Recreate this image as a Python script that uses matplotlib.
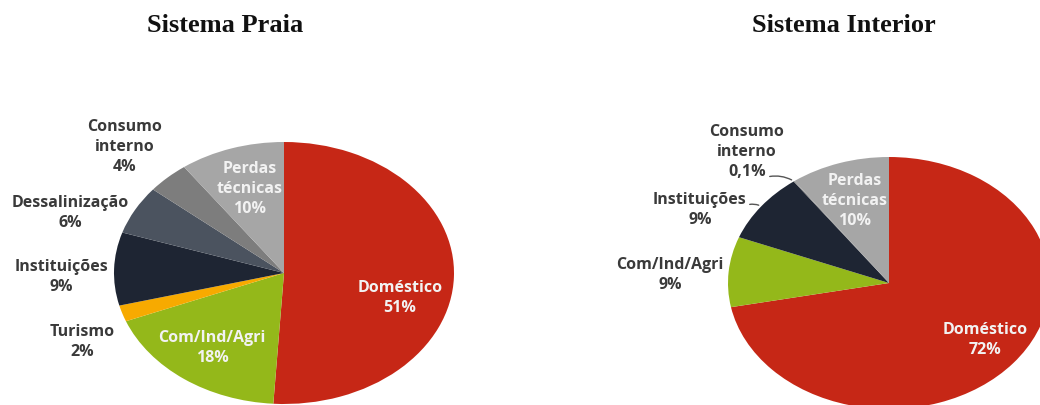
import numpy as np
import matplotlib
matplotlib.use("Agg")
import matplotlib.pyplot as plt

# --- Data --- #
praia_labels = ["Doméstico", "Com/Ind/Agri", "Turismo", "Instituições",
                "Dessalinização", "Consumo\ninterno", "Perdas\ntécnicas"]
praia_values = [51, 18, 2, 9, 6, 4, 10]
praia_pct = ["51%", "18%", "2%", "9%", "6%", "4%", "10%"]

interior_labels = ["Doméstico", "Com/Ind/Agri", "Instituições",
                   "Consumo\ninterno", "Perdas\ntécnicas"]
interior_values = [72, 9, 9, 0.1, 10]
interior_pct = ["72%", "9%", "9%", "0,1%", "10%"]

praia_colors = ["#c62716", "#94b81a", "#f7aa00", "#1e2533",
                "#4b535f", "#7d7d7d", "#a6a6a6"]
interior_colors = ["#c62716", "#94b81a", "#1e2533", "#7d7d7d", "#a6a6a6"]

W, H = 1040, 405
DARK = "#3a3a3a"
LIGHT = "#f2f2f2"


def px_axes(fig, cx, cy, rx, ry):
    # axes placed in pixel coords (y from top) so the pie becomes an ellipse
    return fig.add_axes([(cx - rx) / W, (H - cy - ry) / H, 2 * rx / W, 2 * ry / H])


def put(fig, x, y, s, color):
    fig.text(x / W, 1 - y / H, s, ha="center", va="center", color=color,
             fontsize=11.5, fontweight="bold", family="Open Sans", linespacing=1.35)


def draw_pie(ax, values, colors):
    wedges, _ = ax.pie(values, colors=colors, startangle=90, counterclock=False,
                       radius=1.0, wedgeprops=dict(linewidth=0))
    ax.set_aspect("auto")
    ax.set_xlim(-1, 1)
    ax.set_ylim(-1, 1)
    ax.set_axis_off()
    return wedges


fig = plt.figure(figsize=(W / 100, H / 100), dpi=100)

fig.text(225 / W, 1 - 25 / H, "Sistema Praia", ha="center", va="center",
         family="Liberation Serif", fontweight="bold", fontsize=19, color="#111111")
fig.text(844 / W, 1 - 25 / H, "Sistema Interior", ha="center", va="center",
         family="Liberation Serif", fontweight="bold", fontsize=19, color="#111111")

# --- Sistema Praia --- #
ax1 = px_axes(fig, 284, 273, 170, 131)
draw_pie(ax1, praia_values, praia_colors)
praia_pos = [(400, 298), (212, 348), (82, 342), (61, 277), (70, 213), (125, 147), (250, 189)]
praia_txtcol = [LIGHT, LIGHT, DARK, DARK, DARK, DARK, LIGHT]
for lab, pct, (x, y), c in zip(praia_labels, praia_pct, praia_pos, praia_txtcol):
    put(fig, x, y, lab + "\n" + pct, c)

# --- Sistema Interior --- #
ax2 = px_axes(fig, 889, 283, 161, 126)
wedges2 = draw_pie(ax2, interior_values, interior_colors)
interior_pos = [(985, 340), (670, 275), (700, 210), (747, 152), (855, 201)]
interior_txtcol = [LIGHT, DARK, DARK, DARK, LIGHT]
for lab, pct, (x, y), c in zip(interior_labels, interior_pct, interior_pos, interior_txtcol):
    put(fig, x, y, lab + "\n" + pct, c)

# leader lines for the small outside labels
for i, start in [(2, (747, 205)), (3, (767, 177))]:
    w = wedges2[i]
    ang = np.deg2rad((w.theta1 + w.theta2) / 2)
    sx = (start[0] - 889) / 161
    sy = (283 - start[1]) / 126
    ax2.annotate("", xy=(np.cos(ang), np.sin(ang)), xytext=(sx, sy),
                 arrowprops=dict(arrowstyle="-", color="#555555", lw=1.0,
                                 connectionstyle="arc3,rad=-0.2"),
                 annotation_clip=False)

fig.savefig("out.png", dpi=100)
